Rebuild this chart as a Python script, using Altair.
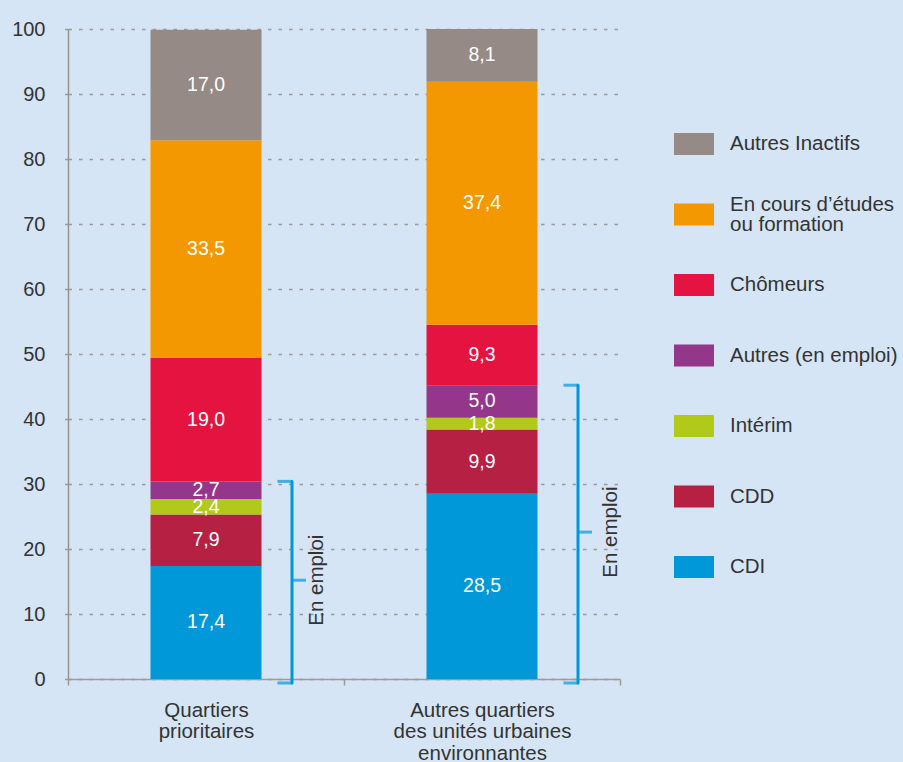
import altair as alt
import pandas as pd

# Zones compared and the status breakdown (in %)
zones = ["Quartiers prioritaires", "Autres quartiers des unités urbaines environnantes"]
zone_lines = [["Quartiers", "prioritaires"], ["Autres quartiers", "des unités urbaines", "environnantes"]]
statuts = ["CDI", "CDD", "Intérim", "Autres (en emploi)", "Chômeurs",
           "En cours d’études ou formation", "Autres Inactifs"]
statut_lines = {"En cours d’études ou formation": ["En cours d’études", "ou formation"]}
en_emploi = ["CDI", "CDD", "Intérim", "Autres (en emploi)"]
part_qp = [17.4, 7.9, 2.4, 2.7, 19.0, 33.5, 17.0]
part_aq = [28.5, 9.9, 1.8, 5.0, 9.3, 37.4, 8.1]
couleurs = ["#0098d8", "#b52043", "#b1c91a", "#94378a", "#e5133f", "#f39800", "#958a85"]

rows = []
for zone, parts in zip(zones, [part_qp, part_aq]):
    for rang, (statut, part) in enumerate(zip(statuts, parts)):
        rows.append({"zone": zone, "statut": statut, "rang": rang, "part": part})
df = pd.DataFrame(rows)

FONT = "Liberation Sans"
TEXT = "#333333"
BLEU = "#0098d8"
FS = 20.5


def js_list(items):
    return "[" + ",".join("'" + s + "'" for s in items) + "]"


# multi-line category labels; the extra band-edge tick gets no label
x_label_expr = " : ".join(
    f"datum.value == '{z}' ? {js_list(l)}" for z, l in zip(zones, zone_lines)
) + " : ''"
legend_label_expr = " : ".join(
    f"datum.label == '{k}' ? {js_list(v)}" for k, v in statut_lines.items()
) + " : datum.label"
# two-line legend labels are lifted by half a line so the block sits centred on its swatch
legend_baseline_expr = " || ".join(
    f"datum.label == '{k}'" for k in statut_lines
) + " ? 'line-bottom' : 'middle'"

y_scale = alt.Scale(domain=[0, 100], nice=False)
x_scale = alt.Scale(paddingInner=0, paddingOuter=0)

x_axis = alt.Axis(
    labelExpr=x_label_expr, labelAngle=0, labelFont=FONT, labelFontSize=FS,
    labelColor=TEXT, labelPadding=15, labelLineHeight=21.5, labelBaseline="top",
    tickBand="extent", tickSize=6, tickColor="#a09a96", tickWidth=1.5,
    domainColor="#a09a96", domainWidth=1.5, grid=False,
)
y_axis = alt.Axis(
    values=list(range(0, 101, 10)), labelFont=FONT, labelFontSize=20,
    labelColor=TEXT, labelPadding=18, tickSize=5, tickColor="#9a9a9a",
    tickWidth=1.5, tickDash=[3.5, 7], domainColor="#9b918c", domainWidth=1.5,
    grid=True, gridColor="#9a9a9a", gridWidth=1.5, gridDash=[3.5, 7],
)


def enc_x():
    return alt.X("zone:N", sort=zones, scale=x_scale, axis=x_axis, title=None)


def enc_y(field, **kw):
    return alt.Y(field, scale=y_scale, axis=y_axis, title=None, **kw)


barres = alt.Chart(df).mark_bar(size=111).encode(
    x=enc_x(),
    y=enc_y("part:Q", stack="zero"),
    order=alt.Order("rang:Q", sort="ascending"),
    color=alt.Color(
        "statut:N",
        scale=alt.Scale(domain=statuts[::-1], range=couleurs[::-1]),
        legend=alt.Legend(
            orient="none", legendX=606, legendY=95, title=None, padding=0,
            symbolType="M-1,-0.55H1V0.55H-1Z", symbolSize=1600, symbolStrokeWidth=0,
            symbolOpacity=1, labelFont=FONT, labelFontSize=FS, labelColor=TEXT,
            labelOffset=16, labelLimit=300, rowPadding=29.5, gridAlign="all",
            labelExpr=legend_label_expr,
            labelBaseline={"expr": legend_baseline_expr},
        ),
    ),
)

etiquettes = alt.Chart(df).transform_window(
    cumul="sum(part)", sort=[alt.SortField("rang")], groupby=["zone"], frame=[None, 0]
).transform_calculate(
    milieu="datum.cumul - datum.part / 2",
    texte="replace(format(datum.part, '.1f'), '.', ',')",
).mark_text(font=FONT, fontSize=19.5, color="white", baseline="middle").encode(
    x=enc_x(),
    y=enc_y("milieu:Q"),
    text="texte:N",
)


def accolade(zone, dx, dtexte):
    base = alt.Chart(df).transform_filter(
        alt.FieldOneOfPredicate(field="statut", oneOf=en_emploi)
    ).transform_filter(
        alt.datum.zone == zone
    ).transform_aggregate(
        emploi="sum(part)", groupby=["zone"]
    ).transform_calculate(
        milieu="datum.emploi / 2", bas="0"
    )
    vertical = base.mark_rule(
        color=BLEU, strokeWidth=3, xOffset=dx, y2Offset=4, strokeCap="round"
    ).encode(x=enc_x(), y=enc_y("emploi:Q"), y2="bas:Q")
    haut = base.mark_tick(
        color=BLEU, orient="horizontal", size=15, thickness=3, xOffset=dx - 7
    ).encode(x=enc_x(), y=enc_y("emploi:Q"))
    bas = base.mark_tick(
        color=BLEU, orient="horizontal", size=15, thickness=3, xOffset=dx - 7, yOffset=4
    ).encode(x=enc_x(), y=enc_y("bas:Q"))
    pointe = base.mark_tick(
        color=BLEU, orient="horizontal", size=14, thickness=3, xOffset=dx + 7
    ).encode(x=enc_x(), y=enc_y("milieu:Q"))
    texte = base.mark_text(
        font=FONT, fontSize=FS, color=TEXT, angle=270, align="center",
        baseline="middle", xOffset=dtexte,
    ).encode(x=enc_x(), y=enc_y("milieu:Q"), text=alt.value("En emploi"))
    return [vertical, haut, bas, pointe, texte]


couches = [barres, etiquettes] + accolade(zones[0], 86, 111) + accolade(zones[1], 96, 129)

chart = alt.layer(*couches).properties(
    width=552,
    height=650,
    autosize="none",
    padding={"left": 68, "top": 29, "right": 283, "bottom": 83},
).configure(
    background="#d5e5f5",
    style={"guide-label": {"lineHeight": 20.5}},
).configure_view(
    stroke=None,
)

chart.save("out.html", embed_options={"renderer": "svg", "actions": False})
